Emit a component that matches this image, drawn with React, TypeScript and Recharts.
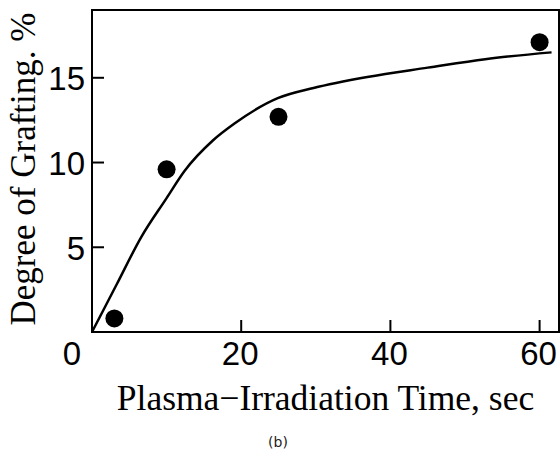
import {
  ComposedChart,
  Label,
  Line,
  ReferenceArea,
  Scatter,
  XAxis,
  YAxis,
} from 'recharts';

// measured grafting points (sec, %)
const TIME_SEC = [3, 10, 25, 60];
const GRAFTING_PCT = [0.8, 9.6, 12.7, 17.1];

// fitted curve
const CURVE_TIME = [0, 3.3, 6.6, 10, 12.4, 16.2, 19.1, 24.9, 29.7, 36.9, 45, 52.7, 61.6];
const CURVE_PCT = [0, 2.8, 5.6, 7.9, 9.5, 11.3, 12.3, 13.8, 14.4, 15.05, 15.6, 16.1, 16.5];

const X_TICKS = [0, 20, 40, 60];
const Y_TICKS = [5, 10, 15];

const X_MAX = 62.6;
const Y_MAX = 19;

const points = TIME_SEC.map((x, i) => ({ x, y: GRAFTING_PCT[i] }));
const curve = CURVE_TIME.map((x, i) => ({ x, y: CURVE_PCT[i] }));

const TICK_FONT = '"Liberation Sans", Arial, sans-serif';
const TITLE_FONT = '"Liberation Serif", "Times New Roman", serif';

function XTick({ x, y, payload }: any) {
  // the "0" sits out at the corner in the original figure
  const dx = payload.value === 0 ? -20 : -1;
  return (
    <g>
      <line x1={x} y1={y} x2={x} y2={y - 12} stroke="#000" strokeWidth={2} />
      <text
        x={x + dx}
        y={y + 21}
        textAnchor="middle"
        dominantBaseline="central"
        fontFamily={TICK_FONT}
        fontSize={33}
        fill="#000"
      >
        {payload.value}
      </text>
    </g>
  );
}

function YTick({ x, y, payload }: any) {
  return (
    <g>
      <line x1={x} y1={y} x2={x + 12} y2={y} stroke="#000" strokeWidth={2} />
      <text
        x={x - 7}
        y={y + 1}
        textAnchor="end"
        dominantBaseline="central"
        fontFamily={TICK_FONT}
        fontSize={33}
        fill="#000"
      >
        {payload.value}
      </text>
    </g>
  );
}

function XTitle({ viewBox }: any) {
  return (
    <text
      x={viewBox.x + viewBox.width / 2}
      y={398}
      textAnchor="middle"
      dominantBaseline="central"
      fontFamily={TITLE_FONT}
      fontSize={35.5}
      fill="#000"
    >
      Plasma−Irradiation Time, sec
    </text>
  );
}

function YTitle() {
  return (
    <text
      x={23}
      y={169}
      transform="rotate(-90 23 169)"
      textAnchor="middle"
      dominantBaseline="central"
      fontFamily={TITLE_FONT}
      fontSize={35}
      fill="#000"
    >
      Degree of Grafting. %
    </text>
  );
}

const Dot = (p: any) => <circle cx={p.cx} cy={p.cy} r={9} fill="#000" />;

export default function App() {
  return (
    <div style={{ position: 'absolute', left: 0, top: 0, width: 560, height: 455, background: '#fff' }}>
      <ComposedChart width={560} height={455} margin={{ top: 10, right: 1, bottom: 83, left: 32 }}>
        <XAxis
          type="number"
          dataKey="x"
          domain={[0, X_MAX]}
          ticks={X_TICKS}
          height={40}
          tickSize={0}
          tickMargin={0}
          tickLine={false}
          axisLine={{ stroke: '#000', strokeWidth: 2 }}
          tick={<XTick />}
          interval={0}
        >
          <Label content={<XTitle />} />
        </XAxis>
        <YAxis
          type="number"
          dataKey="y"
          domain={[0, Y_MAX]}
          ticks={Y_TICKS}
          width={60}
          tickSize={0}
          tickMargin={0}
          tickLine={false}
          axisLine={{ stroke: '#000', strokeWidth: 2 }}
          tick={<YTick />}
          interval={0}
        >
          <Label content={<YTitle />} />
        </YAxis>
        <ReferenceArea x1={0} x2={X_MAX} y1={0} y2={Y_MAX} fill="none" stroke="#000" strokeWidth={2} />
        <Line
          data={curve}
          dataKey="y"
          type="monotone"
          stroke="#000"
          strokeWidth={2.5}
          dot={false}
          activeDot={false}
          isAnimationActive={false}
        />
        <Scatter data={points} dataKey="y" shape={<Dot />} isAnimationActive={false} />
      </ComposedChart>
      <div
        style={{
          position: 'absolute',
          left: 0,
          width: 556,
          top: 434,
          textAlign: 'center',
          fontFamily: '"DejaVu Sans", sans-serif',
          fontSize: 14,
          color: '#222',
        }}
      >
        (b)
      </div>
    </div>
  );
}
